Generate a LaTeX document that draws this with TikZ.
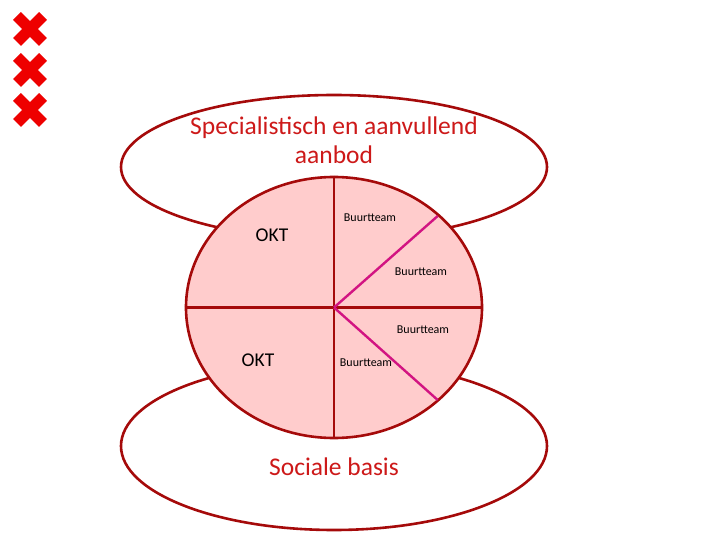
\documentclass[tikz,border=0pt]{standalone}
\usepackage{fontspec}
\setmainfont{Carlito}
\usetikzlibrary{shapes.geometric,calc}
\definecolor{rim}{RGB}{165,10,10}
\definecolor{pinkfill}{RGB}{255,204,204}
\definecolor{mag}{RGB}{210,20,130}
\definecolor{txtred}{RGB}{205,25,25}
\definecolor{xred}{RGB}{238,0,0}
\tikzset{
  ring/.style={ellipse, draw=rim, line width=2.6pt, fill=white, inner sep=0pt},
  pie/.style={ellipse, draw=rim, line width=2.6pt, fill=pinkfill, inner sep=0pt, minimum width=296pt, minimum height=261pt},
  divider/.style={draw=rim, line width=2.6pt},
  magline/.style={draw=mag, line width=2.4pt},
  big/.style={text=txtred, font=\fontsize{25.5}{29}\selectfont, align=center},
  okt/.style={font=\fontsize{19.5}{22}\selectfont},
  bt/.style={font=\fontsize{12}{14}\selectfont},
  xmark/.style={draw=xred, line width=11pt},
}
\begin{document}
\begin{tikzpicture}[x=1pt,y=-1pt]
\useasboundingbox (0,0) rectangle (720,540);
% outer rings
\node[ring, minimum width=426pt, minimum height=144pt] (top) at (334,167) {};
\node[ring, minimum width=426pt, minimum height=168pt] (bot) at (334,446) {};
% pie
\node[pie] (pie) at (334,307.5) {};
\coordinate (c) at (334,307.5);
\draw[divider] (pie.north) -- (pie.south);
\draw[divider] (pie.west) -- (pie.east);
\coordinate (m1) at (437.7,216);
\coordinate (m2) at (437.7,400);
\draw[magline] (c) -- (m1);
\draw[magline] (c) -- (m2);
% texts
\node[big] (spec) at (334,140) {Specialistisch en aanvullend\\aanbod};
\node[big] (soc) at (334,467) {Sociale basis};
\node[okt] (okt1) at (272,235) {OKT};
\node[okt] (okt2) at (258,360) {OKT};
\node[bt] (b1) at (370,218) {Buurtteam};
\node[bt] (b2) at (421,272) {Buurtteam};
\node[bt] (b3) at (423,330) {Buurtteam};
\node[bt] (b4) at (366,363) {Buurtteam};
% crosses
\foreach \yy [count=\i] in {29,70,110} {
  \coordinate (x\i) at (30,\yy);
  \draw[xmark] ($(x\i)+(-13,-13)$) -- ($(x\i)+(13,13)$);
  \draw[xmark] ($(x\i)+(-13,13)$) -- ($(x\i)+(13,-13)$);
}
\end{tikzpicture}
\end{document}
